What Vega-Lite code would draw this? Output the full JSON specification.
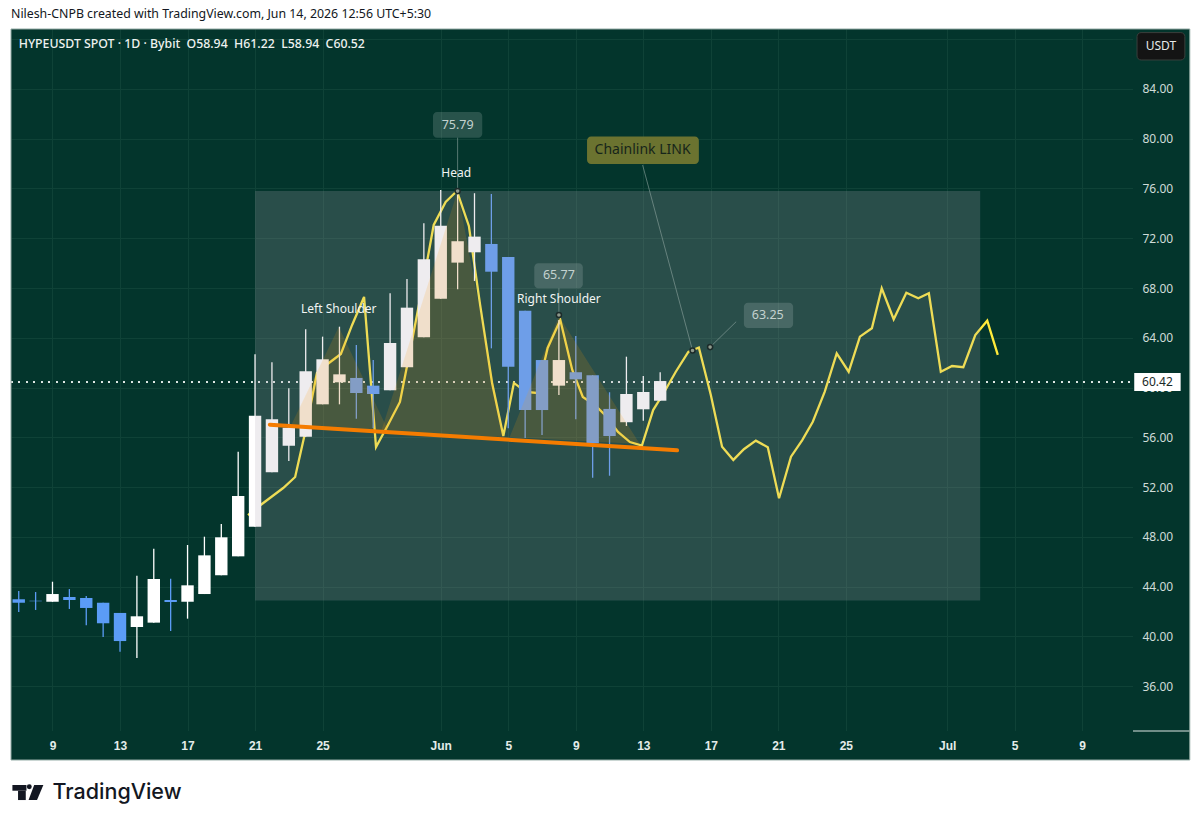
{
  "$schema": "https://vega.github.io/schema/vega-lite/v6.json",
  "width": 1122,
  "height": 702,
  "autosize": "none",
  "padding": {"left": 11, "top": 29, "right": 67, "bottom": 94},
  "background": "#ffffff",
  "title": {
    "text": "Nilesh-CNPB created with TradingView.com, Jun 14, 2026 12:56 UTC+5:30",
    "anchor": "start",
    "frame": "group",
    "offset": 8,
    "font": "Noto Sans",
    "fontSize": 12.35,
    "fontWeight": "normal",
    "color": "#131722"
  },
  "config": {
    "view": {"fill": "#03352c", "stroke": null},
    "font": "Noto Sans",
    "axis": {"title": null, "domain": false, "ticks": false, "gridColor": "#0f4237", "gridWidth": 1}
  },
  "resolve": {"axis": {"x": "independent", "y": "independent"}},
  "datasets": {
    "candles": [
      {"date": "2026-05-07", "open": 42.98, "high": 43.64, "low": 41.96, "close": 42.7},
      {"date": "2026-05-08", "open": 42.86, "high": 43.56, "low": 42.12, "close": 42.82},
      {"date": "2026-05-09", "open": 42.78, "high": 44.39, "low": 42.78, "close": 43.4},
      {"date": "2026-05-10", "open": 43.16, "high": 43.8, "low": 42.2, "close": 42.92},
      {"date": "2026-05-11", "open": 43.08, "high": 43.24, "low": 40.89, "close": 42.28},
      {"date": "2026-05-12", "open": 42.7, "high": 42.7, "low": 39.95, "close": 41.05},
      {"date": "2026-05-13", "open": 41.88, "high": 41.88, "low": 38.76, "close": 39.62},
      {"date": "2026-05-14", "open": 40.75, "high": 44.87, "low": 38.26, "close": 41.61},
      {"date": "2026-05-15", "open": 41.1, "high": 47.04, "low": 41.1, "close": 44.61},
      {"date": "2026-05-16", "open": 42.92, "high": 44.63, "low": 40.43, "close": 42.76},
      {"date": "2026-05-17", "open": 42.78, "high": 47.34, "low": 41.42, "close": 44.1},
      {"date": "2026-05-18", "open": 43.4, "high": 48.01, "low": 43.4, "close": 46.51},
      {"date": "2026-05-19", "open": 44.91, "high": 49.03, "low": 44.91, "close": 47.96},
      {"date": "2026-05-20", "open": 46.43, "high": 54.84, "low": 46.43, "close": 51.28},
      {"date": "2026-05-21", "open": 48.81, "high": 62.67, "low": 48.81, "close": 57.74},
      {"date": "2026-05-22", "open": 53.19, "high": 62.03, "low": 53.19, "close": 57.45},
      {"date": "2026-05-23", "open": 55.32, "high": 59.94, "low": 54.09, "close": 56.77},
      {"date": "2026-05-24", "open": 56.05, "high": 64.68, "low": 56.05, "close": 61.31},
      {"date": "2026-05-25", "open": 58.65, "high": 64.09, "low": 58.65, "close": 62.27},
      {"date": "2026-05-26", "open": 60.42, "high": 64.89, "low": 58.65, "close": 61.06},
      {"date": "2026-05-27", "open": 60.77, "high": 63.42, "low": 57.5, "close": 59.56},
      {"date": "2026-05-28", "open": 60.15, "high": 62.21, "low": 56.75, "close": 59.48},
      {"date": "2026-05-29", "open": 59.78, "high": 67.58, "low": 59.78, "close": 63.58},
      {"date": "2026-05-30", "open": 61.63, "high": 68.73, "low": 61.63, "close": 66.42},
      {"date": "2026-05-31", "open": 64.04, "high": 73.2, "low": 64.04, "close": 70.31},
      {"date": "2026-06-01", "open": 67.14, "high": 75.88, "low": 67.14, "close": 73.01},
      {"date": "2026-06-02", "open": 70.04, "high": 75.79, "low": 67.9, "close": 71.76},
      {"date": "2026-06-03", "open": 70.87, "high": 75.62, "low": 68.56, "close": 72.13},
      {"date": "2026-06-04", "open": 71.54, "high": 75.56, "low": 63.15, "close": 69.31},
      {"date": "2026-06-05", "open": 70.49, "high": 70.49, "low": 56.72, "close": 61.68},
      {"date": "2026-06-06", "open": 66.18, "high": 66.18, "low": 55.94, "close": 58.19},
      {"date": "2026-06-07", "open": 62.21, "high": 62.21, "low": 56.19, "close": 58.19},
      {"date": "2026-06-08", "open": 60.15, "high": 65.43, "low": 59.4, "close": 62.21},
      {"date": "2026-06-09", "open": 61.23, "high": 64.14, "low": 57.45, "close": 60.66},
      {"date": "2026-06-10", "open": 60.98, "high": 60.98, "low": 52.75, "close": 55.52},
      {"date": "2026-06-11", "open": 58.28, "high": 59.62, "low": 52.91, "close": 56.1},
      {"date": "2026-06-12", "open": 57.21, "high": 62.48, "low": 56.91, "close": 59.48},
      {"date": "2026-06-13", "open": 58.25, "high": 60.93, "low": 57.33, "close": 59.64},
      {"date": "2026-06-14", "open": 58.94, "high": 61.22, "low": 58.94, "close": 60.52}
    ],
    "chainlink": [
      {"date": "2026-05-20T14:00Z", "price": 49.75},
      {"date": "2026-05-21T06:00Z", "price": 50.48},
      {"date": "2026-05-21T23:00Z", "price": 51.2},
      {"date": "2026-05-22T16:00Z", "price": 51.92},
      {"date": "2026-05-23T09:00Z", "price": 52.81},
      {"date": "2026-05-24T00:00Z", "price": 56.59},
      {"date": "2026-05-24T16:00Z", "price": 61.17},
      {"date": "2026-05-25T09:00Z", "price": 61.97},
      {"date": "2026-05-26T02:00Z", "price": 62.7},
      {"date": "2026-05-26T18:00Z", "price": 65.03},
      {"date": "2026-05-27T11:00Z", "price": 67.28},
      {"date": "2026-05-28T04:00Z", "price": 55.22},
      {"date": "2026-05-28T21:00Z", "price": 56.99},
      {"date": "2026-05-29T14:00Z", "price": 58.84},
      {"date": "2026-05-30T06:00Z", "price": 63.42},
      {"date": "2026-05-30T23:00Z", "price": 68.4},
      {"date": "2026-05-31T14:00Z", "price": 73.07},
      {"date": "2026-06-01T07:00Z", "price": 74.92},
      {"date": "2026-06-01T23:00Z", "price": 75.8},
      {"date": "2026-06-02T16:00Z", "price": 72.99},
      {"date": "2026-06-03T08:00Z", "price": 66.64},
      {"date": "2026-06-04T01:00Z", "price": 60.37},
      {"date": "2026-06-04T17:00Z", "price": 56.1},
      {"date": "2026-06-05T08:00Z", "price": 60.37},
      {"date": "2026-06-06T01:00Z", "price": 59.64},
      {"date": "2026-06-06T17:00Z", "price": 59.56},
      {"date": "2026-06-07T08:00Z", "price": 63.18},
      {"date": "2026-06-08T02:00Z", "price": 65.43},
      {"date": "2026-06-08T19:00Z", "price": 61.41},
      {"date": "2026-06-09T10:00Z", "price": 59.24},
      {"date": "2026-06-10T03:00Z", "price": 58.6},
      {"date": "2026-06-10T19:00Z", "price": 57.71},
      {"date": "2026-06-11T12:00Z", "price": 56.43},
      {"date": "2026-06-12T05:00Z", "price": 55.62},
      {"date": "2026-06-12T22:00Z", "price": 55.34},
      {"date": "2026-06-13T14:00Z", "price": 58.19},
      {"date": "2026-06-14T05:00Z", "price": 59.56},
      {"date": "2026-06-14T22:00Z", "price": 61.25},
      {"date": "2026-06-15T16:00Z", "price": 62.86},
      {"date": "2026-06-16T07:00Z", "price": 63.22},
      {"date": "2026-06-17T00:00Z", "price": 59.4},
      {"date": "2026-06-17T16:00Z", "price": 55.24},
      {"date": "2026-06-18T08:00Z", "price": 54.18},
      {"date": "2026-06-18T23:00Z", "price": 55.04},
      {"date": "2026-06-19T16:00Z", "price": 55.73},
      {"date": "2026-06-20T09:00Z", "price": 55.2},
      {"date": "2026-06-21T01:00Z", "price": 51.1},
      {"date": "2026-06-21T18:00Z", "price": 54.44},
      {"date": "2026-06-22T10:00Z", "price": 55.78},
      {"date": "2026-06-23T01:00Z", "price": 57.25},
      {"date": "2026-06-23T18:00Z", "price": 59.67},
      {"date": "2026-06-24T11:00Z", "price": 62.75},
      {"date": "2026-06-25T04:00Z", "price": 61.27},
      {"date": "2026-06-25T20:00Z", "price": 64.09},
      {"date": "2026-06-26T13:00Z", "price": 64.76},
      {"date": "2026-06-27T03:00Z", "price": 67.98},
      {"date": "2026-06-27T20:00Z", "price": 65.49},
      {"date": "2026-06-28T14:00Z", "price": 67.62},
      {"date": "2026-06-29T07:00Z", "price": 67.17},
      {"date": "2026-06-29T22:00Z", "price": 67.58},
      {"date": "2026-06-30T15:00Z", "price": 61.27},
      {"date": "2026-07-01T07:00Z", "price": 61.73},
      {"date": "2026-07-01T23:00Z", "price": 61.63},
      {"date": "2026-07-02T16:00Z", "price": 64.22},
      {"date": "2026-07-03T09:00Z", "price": 65.37},
      {"date": "2026-07-04T00:00Z", "price": 62.62}
    ],
    "pattern": [
      {"shape": "left shoulder", "date": "2026-05-23T02:00Z", "price": 56.83, "base": 56.83},
      {"shape": "left shoulder", "date": "2026-05-25T23:00Z", "price": 64.87, "base": 56.71},
      {"shape": "left shoulder", "date": "2026-05-28T21:00Z", "price": 56.59, "base": 56.59},
      {"shape": "head", "date": "2026-05-28T11:00Z", "price": 56.43, "base": 56.43},
      {"shape": "head", "date": "2026-06-02T00:00Z", "price": 75.79, "base": 56.18},
      {"shape": "head", "date": "2026-06-04T17:00Z", "price": 56.02, "base": 56.02},
      {"shape": "right shoulder", "date": "2026-06-05T02:00Z", "price": 56.02, "base": 56.02},
      {"shape": "right shoulder", "date": "2026-06-08T00:00Z", "price": 65.75, "base": 55.81},
      {"shape": "right shoulder", "date": "2026-06-12T19:00Z", "price": 55.46, "base": 55.46}
    ],
    "neckline": [
      {"date": "2026-05-21T21:00Z", "price": 57.01},
      {"date": "2026-06-15T00:00Z", "price": 54.95}
    ],
    "box": [
      {"date": "2026-05-21T00:00Z", "date2": "2026-07-02T23:00Z", "price": 42.88, "price2": 75.8}
    ],
    "strips": [
      {"date": "2026-07-12T00:15Z", "date2": "2026-07-15T09:00Z", "price": 30.06, "price2": 88.82},
      {"date": "2026-05-06T13:00Z", "date2": "2026-07-12T00:15Z", "price": 30.06, "price2": 32.39}
    ],
    "frame": [
      {"date": "2026-05-06T13:00Z", "date2": "2026-07-15T09:00Z", "price": 30.06, "price2": 88.82}
    ],
    "scaleEdge": [
      {"date": "2026-07-12T00:15Z", "date2": "2026-07-15T09:00Z", "price": 32.39}
    ],
    "leaders": [
      {"date": "2026-06-02T00:00Z", "date2": "2026-06-02T00:00Z", "price": 80.08, "price2": 75.79},
      {"date": "2026-06-08T00:00Z", "date2": "2026-06-08T00:00Z", "price": 67.98, "price2": 65.77},
      {"date": "2026-06-16T23:00Z", "date2": "2026-06-18T12:00Z", "price": 63.25, "price2": 65.29},
      {"date": "2026-06-12T23:00Z", "date2": "2026-06-15T22:00Z", "price": 77.89, "price2": 62.98}
    ],
    "anchors": [
      {"date": "2026-06-02T00:00Z", "price": 75.79},
      {"date": "2026-06-08T00:00Z", "price": 65.83},
      {"date": "2026-06-16T23:00Z", "price": 63.25},
      {"date": "2026-06-15T22:00Z", "price": 62.98}
    ],
    "valueTags": [
      {"date": "2026-05-31T13:00Z", "date2": "2026-06-03T11:00Z", "price": 80.08, "price2": 82.15},
      {"date": "2026-06-06T13:00Z", "date2": "2026-06-09T10:00Z", "price": 67.98, "price2": 69.99},
      {"date": "2026-06-18T23:00Z", "date2": "2026-06-21T21:00Z", "price": 64.79, "price2": 66.82}
    ],
    "valueText": [
      {"date": "2026-06-02T00:00Z", "price": 81.13, "label": "75.79"},
      {"date": "2026-06-08T00:00Z", "price": 69.01, "label": "65.77"},
      {"date": "2026-06-20T09:00Z", "price": 65.81, "label": "63.25"}
    ],
    "patternText": [
      {"date": "2026-06-01T22:00Z", "price": 77.27, "label": "Head"},
      {"date": "2026-05-25T23:00Z", "price": 66.34, "label": "Left Shoulder"},
      {"date": "2026-06-08T00:00Z", "price": 67.09, "label": "Right Shoulder"}
    ],
    "linkTag": [
      {"date": "2026-06-09T16:00Z", "date2": "2026-06-16T07:00Z", "price": 77.97, "price2": 80.17}
    ],
    "linkText": [
      {"date": "2026-06-12T23:00Z", "price": 79.1, "label": "Chainlink LINK"}
    ],
    "usdtTag": [
      {"date": "2026-07-12T06:00Z", "date2": "2026-07-15T02:00Z", "price": 86.33, "price2": 88.53}
    ],
    "usdtText": [
      {"date": "2026-07-13T16:00Z", "price": 87.42, "label": "USDT"}
    ],
    "hiddenTick": [
      {"date": "2026-07-13T11:00Z", "price": 60, "label": "60.00"}
    ],
    "lastTag": [
      {"date": "2026-07-12T02:00Z", "date2": "2026-07-14T20:00Z", "price": 59.72, "price2": 61.17}
    ],
    "lastText": [
      {"date": "2026-07-13T11:00Z", "price": 60.42, "label": "60.42"}
    ],
    "header": [
      {"date": "2026-05-07T00:00Z", "price": 87.62, "label": "HYPEUSDT SPOT · 1D · Bybit \u00a0O58.94 \u00a0H61.22 \u00a0L58.94 \u00a0C60.52"}
    ],
    "logoBars": [
      {"date": "2026-05-06T15:00Z", "date2": "2026-05-07T11:00Z", "price": 27.59, "price2": 28.05},
      {"date": "2026-05-06T23:00Z", "date2": "2026-05-07T10:00Z", "price": 26.84, "price2": 27.59}
    ],
    "logoSlant": [
      {"date": "2026-05-07T14:00Z", "price": 26.84, "base": 26.84},
      {"date": "2026-05-07T22:00Z", "price": 28.05, "base": 26.84},
      {"date": "2026-05-08T02:00Z", "price": 28.05, "base": 26.84},
      {"date": "2026-05-08T11:00Z", "price": 28.05, "base": 28.05}
    ],
    "logoDot": [
      {"date": "2026-05-07T15:00Z", "price": 27.91}
    ],
    "logoText": [
      {"date": "2026-05-09T00:00Z", "price": 27.4, "label": "TradingView"}
    ]
  },
  "encoding": {
    "x": {
      "field": "date",
      "type": "temporal",
      "scale": {"type": "utc", "padding": 0, "domain": ["2026-05-06T13:00Z", "2026-07-12T00:15Z"]},
      "axis": null
    },
    "y": {
      "field": "price",
      "type": "quantitative",
      "scale": {"domain": [32.39, 88.82], "nice": false, "zero": false},
      "axis": null
    }
  },
  "layer": [
    {
      "data": {"name": "chainlink"},
      "mark": {"type": "rule", "color": "#dfe7e4", "strokeWidth": 1.3, "strokeDash": [1.3, 6.2], "opacity": 0.85},
      "encoding": {"x": {"value": 0}, "x2": {"value": 1122}, "y": {"datum": 60.42}}
    },
    {
      "data": {"name": "chainlink"},
      "mark": {"type": "line", "color": "#ffeb3b", "strokeWidth": 2.3, "strokeJoin": "miter"},
      "encoding": {
        "x": {
          "field": "date",
          "type": "temporal",
          "scale": {"type": "utc", "padding": 0, "domain": ["2026-05-06T13:00Z", "2026-07-12T00:15Z"]},
          "axis": {
            "orient": "bottom",
            "zindex": 0,
            "grid": true,
            "labels": false,
            "values": [
              {"year": 2026, "month": "may", "date": 9, "utc": true},
              {"year": 2026, "month": "may", "date": 13, "utc": true},
              {"year": 2026, "month": "may", "date": 17, "utc": true},
              {"year": 2026, "month": "may", "date": 21, "utc": true},
              {"year": 2026, "month": "may", "date": 25, "utc": true},
              {"year": 2026, "month": "jun", "date": 1, "utc": true},
              {"year": 2026, "month": "jun", "date": 5, "utc": true},
              {"year": 2026, "month": "jun", "date": 9, "utc": true},
              {"year": 2026, "month": "jun", "date": 13, "utc": true},
              {"year": 2026, "month": "jun", "date": 17, "utc": true},
              {"year": 2026, "month": "jun", "date": 21, "utc": true},
              {"year": 2026, "month": "jun", "date": 25, "utc": true},
              {"year": 2026, "month": "jul", "date": 1, "utc": true},
              {"year": 2026, "month": "jul", "date": 5, "utc": true},
              {"year": 2026, "month": "jul", "date": 9, "utc": true}
            ]
          }
        },
        "y": {
          "field": "price",
          "type": "quantitative",
          "scale": {"domain": [32.39, 88.82], "nice": false, "zero": false},
          "axis": {
            "orient": "right",
            "zindex": 0,
            "grid": true,
            "labels": false,
            "values": [36, 40, 44, 48, 52, 56, 60, 64, 68, 72, 76, 80, 84, 88]
          }
        }
      }
    },
    {
      "data": {"name": "candles"},
      "transform": [{"calculate": "datum.close >= datum.open ? 'up' : 'down'", "as": "direction"}],
      "mark": {"type": "rule", "strokeWidth": 1.3},
      "encoding": {
        "y": {"field": "low", "type": "quantitative", "axis": null},
        "y2": {"field": "high"},
        "color": {"field": "direction", "type": "nominal", "legend": null, "scale": {"domain": ["up", "down"], "range": ["#ffffff", "#5b9cf6"]}}
      }
    },
    {
      "data": {"name": "candles"},
      "transform": [{"calculate": "datum.close >= datum.open ? 'up' : 'down'", "as": "direction"}],
      "mark": {"type": "bar", "width": 12.4},
      "encoding": {
        "y": {"field": "open", "type": "quantitative", "axis": null},
        "y2": {"field": "close"},
        "color": {"field": "direction", "type": "nominal", "legend": null, "scale": {"domain": ["up", "down"], "range": ["#ffffff", "#5b9cf6"]}}
      }
    },
    {
      "data": {"name": "box", "format": {"parse": {"date": "date", "date2": "date"}}},
      "mark": {"type": "rect", "color": "#b0aab4", "opacity": 0.22},
      "encoding": {"x2": {"field": "date2"}, "y2": {"field": "price2"}}
    },
    {
      "data": {"name": "pattern"},
      "mark": {"type": "area", "color": "#ff9800", "opacity": 0.15},
      "encoding": {"y2": {"field": "base"}, "detail": {"field": "shape"}}
    },
    {
      "data": {"name": "neckline"},
      "mark": {"type": "line", "color": "#f57c00", "strokeWidth": 4, "strokeCap": "round"}
    },
    {
      "data": {"name": "leaders", "format": {"parse": {"date": "date", "date2": "date"}}},
      "mark": {"type": "rule", "color": "#8fa5a0", "strokeWidth": 1, "opacity": 0.6},
      "encoding": {"x2": {"field": "date2"}, "y2": {"field": "price2"}}
    },
    {
      "data": {"name": "anchors"},
      "mark": {"type": "point", "filled": true, "fill": "#8f9a8c", "stroke": "#1c2b2a", "strokeWidth": 1.5, "size": 26, "opacity": 1}
    },
    {
      "data": {"name": "valueTags", "format": {"parse": {"date": "date", "date2": "date"}}},
      "mark": {"type": "rect", "color": "#ffffff", "opacity": 0.15, "cornerRadius": 4},
      "encoding": {"x2": {"field": "date2"}, "y2": {"field": "price2"}}
    },
    {
      "data": {"name": "valueText"},
      "mark": {"type": "text", "color": "#c4d2cf", "fontSize": 12.5, "align": "center", "baseline": "middle"},
      "encoding": {"text": {"field": "label"}}
    },
    {
      "data": {"name": "patternText"},
      "mark": {"type": "text", "color": "#f2f5f4", "fontSize": 12, "align": "center", "baseline": "middle"},
      "encoding": {"text": {"field": "label"}}
    },
    {
      "data": {"name": "linkTag", "format": {"parse": {"date": "date", "date2": "date"}}},
      "mark": {"type": "rect", "color": "#6b7330", "cornerRadius": 4},
      "encoding": {"x2": {"field": "date2"}, "y2": {"field": "price2"}}
    },
    {
      "data": {"name": "linkText"},
      "mark": {"type": "text", "color": "#16251a", "fontSize": 14, "align": "center", "baseline": "middle"},
      "encoding": {"text": {"field": "label"}}
    },
    {
      "data": {"name": "strips", "format": {"parse": {"date": "date", "date2": "date"}}},
      "mark": {"type": "rect", "color": "#03352c"},
      "encoding": {"x2": {"field": "date2"}, "y2": {"field": "price2"}}
    },
    {
      "data": {"name": "scaleEdge", "format": {"parse": {"date": "date", "date2": "date"}}},
      "mark": {"type": "rule", "color": "#dfe7e4", "strokeWidth": 1},
      "encoding": {"x2": {"field": "date2"}}
    },
    {
      "data": {"name": "frame", "format": {"parse": {"date": "date", "date2": "date"}}},
      "mark": {"type": "rect", "fillOpacity": 0, "stroke": "#93aaa4", "strokeWidth": 1},
      "encoding": {"x2": {"field": "date2"}, "y2": {"field": "price2"}}
    },
    {
      "data": {"name": "usdtTag", "format": {"parse": {"date": "date", "date2": "date"}}},
      "mark": {"type": "rect", "color": "#141414", "stroke": "#3a3f3c", "strokeWidth": 1, "cornerRadius": 4},
      "encoding": {"x2": {"field": "date2"}, "y2": {"field": "price2"}}
    },
    {
      "data": {"name": "usdtText"},
      "mark": {"type": "text", "color": "#e6e9e8", "fontSize": 12, "align": "center", "baseline": "middle"},
      "encoding": {"text": {"field": "label"}}
    },
    {
      "data": {"name": "header"},
      "mark": {"type": "text", "color": "#eef2f0", "fontSize": 12.3, "fontWeight": 500, "align": "left", "baseline": "middle"},
      "encoding": {"text": {"field": "label"}}
    },
    {
      "data": {"name": "logoBars", "format": {"parse": {"date": "date", "date2": "date"}}},
      "mark": {"type": "rect", "color": "#131722"},
      "encoding": {"x2": {"field": "date2"}, "y2": {"field": "price2"}}
    },
    {
      "data": {"name": "logoSlant"},
      "mark": {"type": "area", "color": "#131722"},
      "encoding": {"y2": {"field": "base"}}
    },
    {
      "data": {"name": "logoDot"},
      "mark": {"type": "point", "filled": true, "color": "#131722", "size": 24, "opacity": 1}
    },
    {
      "data": {"name": "logoText"},
      "mark": {"type": "text", "color": "#131722", "font": "Inter", "fontSize": 21.5, "fontWeight": 500, "align": "left", "baseline": "middle"},
      "encoding": {
        "text": {"field": "label"},
        "x": {
          "field": "date",
          "type": "temporal",
          "scale": {"type": "utc", "padding": 0, "domain": ["2026-05-06T13:00Z", "2026-07-12T00:15Z"]},
          "axis": {
            "orient": "bottom",
            "zindex": 1,
            "grid": false,
            "values": [
              {"year": 2026, "month": "may", "date": 9, "utc": true},
              {"year": 2026, "month": "may", "date": 13, "utc": true},
              {"year": 2026, "month": "may", "date": 17, "utc": true},
              {"year": 2026, "month": "may", "date": 21, "utc": true},
              {"year": 2026, "month": "may", "date": 25, "utc": true},
              {"year": 2026, "month": "jun", "date": 1, "utc": true},
              {"year": 2026, "month": "jun", "date": 5, "utc": true},
              {"year": 2026, "month": "jun", "date": 9, "utc": true},
              {"year": 2026, "month": "jun", "date": 13, "utc": true},
              {"year": 2026, "month": "jun", "date": 17, "utc": true},
              {"year": 2026, "month": "jun", "date": 21, "utc": true},
              {"year": 2026, "month": "jun", "date": 25, "utc": true},
              {"year": 2026, "month": "jul", "date": 1, "utc": true},
              {"year": 2026, "month": "jul", "date": 5, "utc": true},
              {"year": 2026, "month": "jul", "date": 9, "utc": true}
            ],
            "labelExpr": "utcdate(datum.value) == 1 ? utcFormat(datum.value, '%b') : utcFormat(datum.value, '%-d')",
            "labelFont": "Liberation Sans",
            "labelFontSize": 12,
            "labelFontWeight": "bold",
            "labelColor": "#e4ece9",
            "labelPadding": 9,
            "labelOverlap": false
          }
        },
        "y": {
          "field": "price",
          "type": "quantitative",
          "scale": {"domain": [32.39, 88.82], "nice": false, "zero": false},
          "axis": {
            "orient": "right",
            "zindex": 1,
            "grid": false,
            "values": [36, 40, 44, 48, 52, 56, 64, 68, 72, 76, 80, 84],
            "format": ".2f",
            "labelFont": "Noto Sans",
            "labelFontSize": 12,
            "labelColor": "#cfdcd8",
            "labelPadding": 9,
            "labelAlign": "left",
            "labelOverlap": false
          }
        }
      }
    },
    {
      "data": {"name": "hiddenTick"},
      "mark": {"type": "text", "color": "#cfdcd8", "fontSize": 12, "align": "center", "baseline": "middle"},
      "encoding": {"text": {"field": "label"}}
    },
    {
      "data": {"name": "lastTag", "format": {"parse": {"date": "date", "date2": "date"}}},
      "mark": {"type": "rect", "color": "#ffffff"},
      "encoding": {"x2": {"field": "date2"}, "y2": {"field": "price2"}}
    },
    {
      "data": {"name": "lastText"},
      "mark": {"type": "text", "color": "#1b2a28", "fontSize": 12, "align": "center", "baseline": "middle"},
      "encoding": {"text": {"field": "label"}}
    }
  ]
}
